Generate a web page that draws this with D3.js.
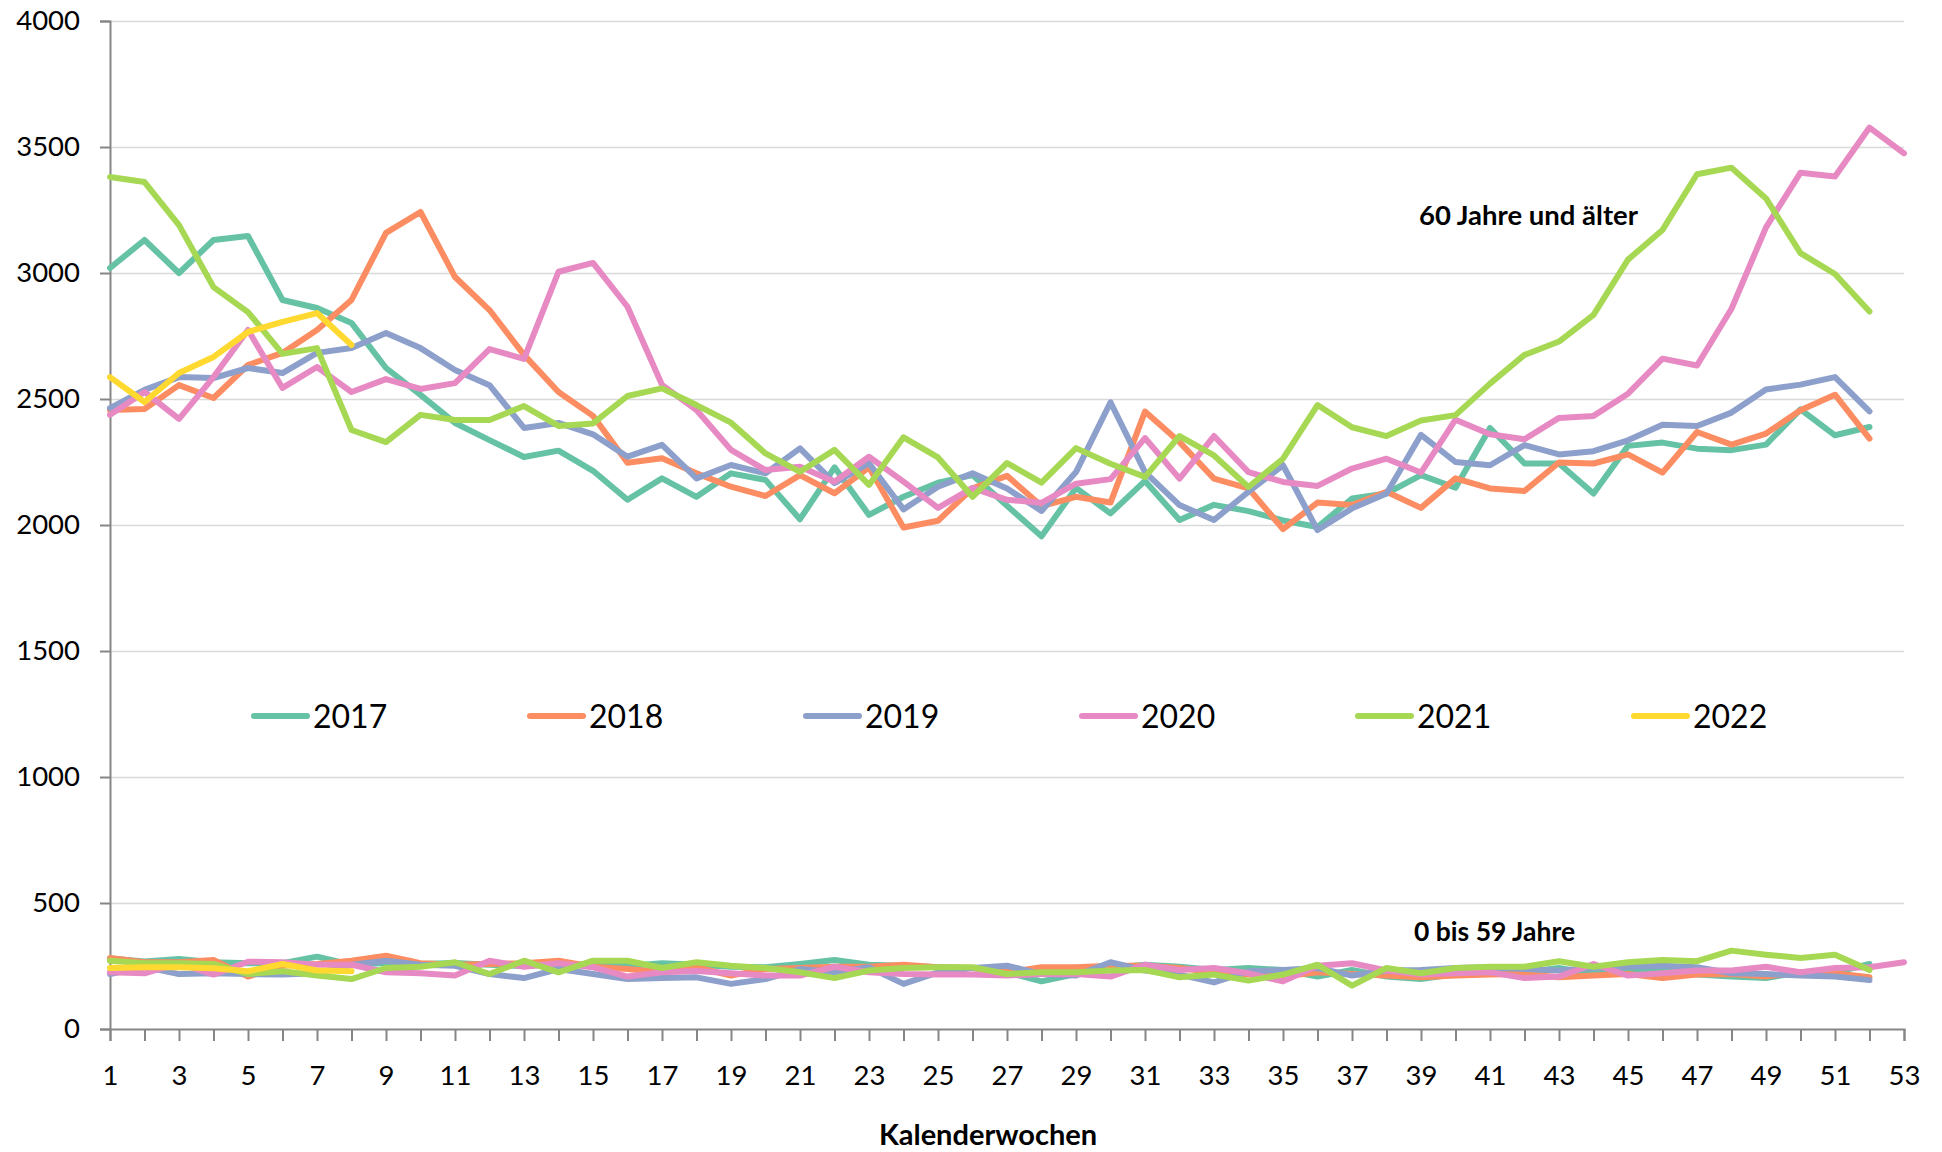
<!DOCTYPE html>
<html>
<head>
<meta charset="utf-8">
<script src="https://cdn.jsdelivr.net/npm/d3@7"></script>
<style>
  html, body { margin: 0; padding: 0; background: #fff; }
  svg { display: block; font-family: Lato, "Open Sans", sans-serif; }
</style>
</head>
<body>
<svg id="chart" width="1942" height="1152"></svg>
<script>
// ---- data ----
const years = ["2017", "2018", "2019", "2020", "2021", "2022"];
const colors = ["#66c2a5", "#fc8d62", "#8da0cb", "#e78ac3", "#a6d854", "#ffd92f"];
const yTicks = [0, 500, 1000, 1500, 2000, 2500, 3000, 3500, 4000];
const xLabelWeeks = [1,3,5,7,9,11,13,15,17,19,21,23,25,27,29,31,33,35,37,39,41,43,45,47,49,51,53];

// 60 Jahre und älter
const older2017 = [3020,3131,3000,3131,3147,2893,2861,2802,2623,2516,2405,2337,2270,2295,2215,2100,2185,2112,2205,2179,2023,2229,2040,2112,2168,2198,2076,1955,2147,2046,2175,2020,2080,2055,2018,1992,2105,2125,2198,2148,2385,2244,2244,2125,2314,2327,2303,2297,2319,2459,2356,2389];
const older2018 = [2456,2460,2555,2504,2635,2683,2774,2893,3159,3242,2984,2853,2675,2528,2433,2247,2265,2205,2152,2115,2198,2126,2229,1990,2017,2146,2195,2075,2112,2089,2450,2329,2184,2145,1984,2089,2079,2132,2068,2185,2145,2135,2248,2244,2280,2208,2369,2319,2363,2455,2517,2343];
const older2019 = [2464,2536,2587,2583,2623,2603,2683,2702,2762,2702,2615,2555,2385,2405,2360,2271,2318,2185,2238,2205,2304,2166,2245,2062,2152,2205,2145,2056,2210,2487,2210,2079,2020,2132,2237,1980,2066,2125,2358,2250,2237,2317,2280,2293,2336,2398,2393,2446,2538,2557,2587,2451];
const older2020 = [2437,2528,2421,2587,2774,2544,2627,2528,2579,2540,2563,2698,2659,3005,3040,2866,2556,2456,2298,2218,2231,2172,2271,2172,2068,2147,2100,2088,2164,2182,2345,2184,2353,2210,2171,2155,2224,2263,2208,2418,2360,2340,2425,2433,2521,2660,2633,2858,3181,3398,3383,3577,3475];
const older2021 = [3381,3361,3190,2944,2845,2679,2702,2377,2329,2437,2417,2417,2472,2393,2403,2512,2542,2476,2406,2284,2211,2298,2159,2348,2268,2112,2246,2168,2305,2243,2191,2353,2276,2151,2263,2476,2388,2353,2415,2436,2561,2675,2728,2834,3053,3171,3392,3418,3296,3079,2996,2847];
const older2022 = [2587,2488,2603,2667,2766,2806,2841,2714];

// 0 bis 59 Jahre
const young2017 = [280,268,278,265,261,261,287,255,262,258,262,255,250,258,255,250,261,255,247,245,258,274,255,251,245,242,225,189,218,242,255,247,234,242,234,208,234,208,198,218,225,225,242,218,234,234,216,208,202,225,225,258];
const young2018 = [282,265,265,274,208,251,258,271,291,261,255,258,261,271,247,238,225,245,212,238,242,247,247,255,245,242,225,245,245,251,251,242,225,216,208,225,218,212,205,212,216,218,205,212,218,202,216,218,208,225,221,205];
const young2019 = [218,247,218,221,218,216,221,255,271,255,251,218,202,238,218,198,202,205,179,198,238,225,245,179,225,242,251,218,212,265,232,216,185,229,234,242,212,232,234,242,245,238,232,242,247,251,245,221,218,212,208,194];
const young2020 = [225,221,260,216,267,265,255,255,225,221,212,271,247,261,245,208,225,230,221,212,212,247,225,218,216,216,212,218,218,208,255,234,242,221,189,251,261,232,216,221,225,202,208,258,212,221,232,232,247,225,242,245,265];
const young2021 = [271,261,261,258,218,229,212,198,242,247,265,218,271,225,271,271,242,265,251,242,225,202,232,242,245,245,218,225,225,232,234,205,216,192,216,255,172,242,221,242,247,247,269,247,265,274,269,311,295,282,295,234];
const young2022 = [242,245,245,241,229,258,232,229];

const olderSeries = [older2017, older2018, older2019, older2020, older2021, older2022];
const youngSeries = [young2017, young2018, young2019, young2020, young2021, young2022];

// ---- layout ----
const svg = d3.select("#chart");
const plotLeft = 110, plotRight = 1904, plotTop = 21, plotBottom = 1029;

const x = d3.scaleLinear().domain([1, 53]).range([plotLeft, plotRight]);
const y = d3.scaleLinear().domain([0, 4000]).range([plotBottom, plotTop]);

// gridlines
svg.append("g")
  .attr("transform", `translate(${plotLeft},0)`)
  .call(d3.axisLeft(y).tickValues(yTicks.slice(1)).tickSize(-(plotRight - plotLeft)).tickFormat(""))
  .call(g => g.select(".domain").remove())
  .call(g => g.selectAll("line").attr("stroke", "#d9d9d9").attr("stroke-width", 1.5));

// y axis
const yAxis = svg.append("g")
  .attr("transform", `translate(${plotLeft},0)`)
  .call(d3.axisLeft(y).tickValues(yTicks).tickSize(10).tickPadding(20).tickFormat(d3.format("d")));
yAxis.select(".domain").attr("stroke", "#868686").attr("stroke-width", 2);
yAxis.selectAll(".tick line").attr("stroke", "#868686").attr("stroke-width", 2);
yAxis.selectAll("text").attr("font-size", 27.5).attr("fill", "#000").attr("font-family", "Lato, sans-serif");

// x axis
const xAxis = svg.append("g")
  .attr("transform", `translate(0,${plotBottom})`)
  .call(d3.axisBottom(x).tickValues(d3.range(1, 54)).tickSize(12).tickPadding(24)
    .tickFormat(d => xLabelWeeks.includes(d) ? d : ""));
xAxis.select(".domain").attr("stroke", "#868686").attr("stroke-width", 2);
xAxis.selectAll(".tick line").attr("stroke", "#868686").attr("stroke-width", 2);
xAxis.selectAll("text").attr("font-size", 27.5).attr("fill", "#000").attr("font-family", "Lato, sans-serif");

// lines
const line = d3.line().x((d, i) => x(i + 1)).y(d => y(d));
const lineG = svg.append("g").attr("fill", "none").attr("stroke-width", 6)
  .attr("stroke-linejoin", "round").attr("stroke-linecap", "round");
youngSeries.forEach((s, i) => {
  lineG.append("path").attr("d", line(s)).attr("stroke", colors[i]);
});
olderSeries.forEach((s, i) => {
  lineG.append("path").attr("d", line(s)).attr("stroke", colors[i]);
});

// annotations
svg.append("text").attr("x", 1419).attr("y", 225).attr("font-size", 27.5).attr("font-weight", "bold")
  .attr("fill", "#000").text("60 Jahre und älter");
svg.append("text").attr("x", 1414).attr("y", 941).attr("font-size", 26.5).attr("font-weight", "bold")
  .attr("fill", "#000").text("0 bis 59 Jahre");

// axis title
svg.append("text").attr("x", 988).attr("y", 1145).attr("text-anchor", "middle")
  .attr("font-size", 29).attr("font-weight", "bold").attr("fill", "#000").text("Kalenderwochen");

// legend
const legend = svg.append("g");
years.forEach((yr, i) => {
  const lx = 254 + i * 276;
  legend.append("line").attr("x1", lx).attr("x2", lx + 53).attr("y1", 716).attr("y2", 716)
    .attr("stroke", colors[i]).attr("stroke-width", 6).attr("stroke-linecap", "round");
  legend.append("text").attr("x", lx + 59).attr("y", 728).attr("font-size", 32)
    .attr("fill", "#000").text(yr);
});
</script>
</body>
</html>
